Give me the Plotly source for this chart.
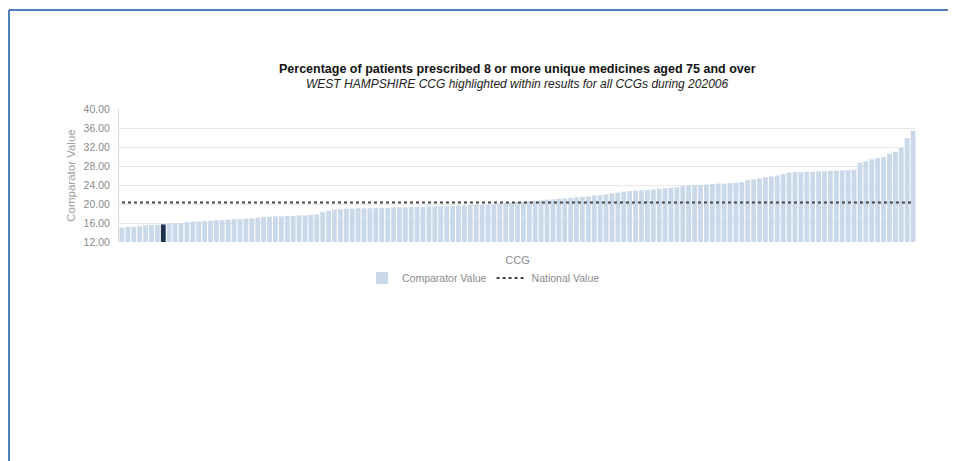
import plotly.graph_objects as go

# ---- data ----
comparator_values = [
    15.0, 15.2, 15.2, 15.3,
    15.5, 15.6, 15.6,
    15.7,
    15.9, 16.0, 16.0,
    16.2, 16.3, 16.3, 16.4,
    16.5, 16.6, 16.6, 16.7, 16.8, 16.8, 16.9,
    17.0, 17.1, 17.2,
    17.3, 17.4, 17.4, 17.5, 17.5, 17.6, 17.6, 17.7, 17.8,
    18.3, 18.6,
    18.8, 18.9, 19.0, 19.0, 19.1,
    19.1, 19.1, 19.2, 19.2, 19.2, 19.3, 19.3, 19.3, 19.4, 19.4, 19.4, 19.5, 19.5, 19.5,
    19.6, 19.6, 19.7, 19.7, 19.8, 19.8, 19.9, 19.9, 20.0, 20.1, 20.2, 20.3, 20.4, 20.5, 20.6,
    20.7, 20.8, 20.9, 21.0, 21.1, 21.2, 21.3, 21.4, 21.5, 21.6, 21.8, 21.9, 22.0, 22.2, 22.4, 22.6, 22.7, 22.8, 22.9,
    23.0, 23.1, 23.2, 23.3, 23.4, 23.5,
    23.8, 23.9, 24.0, 24.0, 24.1,
    24.2, 24.3, 24.3, 24.4, 24.5, 24.6,
    25.0, 25.2, 25.4, 25.6,
    25.8, 26.0, 26.3,
    26.6, 26.7, 26.7, 26.8, 26.8, 26.9, 26.9, 27.0, 27.0, 27.1, 27.1, 27.2,
    28.7, 29.0, 29.4,
    29.7, 29.9,
    30.6, 31.0,
    31.8,
    33.9,
    35.4,
]
ccg_names = ["CCG %d" % (i + 1) for i in range(len(comparator_values))]
highlight_index = 7          # WEST HAMPSHIRE CCG
national_value = 20.3

y_ticks = [12, 16, 20, 24, 28, 32, 36, 40]
y_tick_labels = ["12.00", "16.00", "20.00", "24.00", "28.00", "32.00", "36.00", "40.00"]

title_text = "Percentage of patients prescribed 8 or more unique medicines aged 75 and over"
subtitle_text = "WEST HAMPSHIRE CCG highlighted within results for all CCGs during 202006"

# ---- styling ----
bar_color = "#cad9ea"
highlight_color = "#1e3350"
bar_colors = [highlight_color if i == highlight_index else bar_color
              for i in range(len(comparator_values))]

fig = go.Figure()
fig.add_trace(go.Bar(
    x=ccg_names, y=comparator_values, name="Comparator Value",
    marker=dict(color=bar_colors, line=dict(width=0)),
))
fig.add_trace(go.Scatter(
    x=ccg_names, y=[national_value] * len(ccg_names), name="National Value",
    mode="lines", line=dict(color="#444444", width=2, dash="dot"),
))

# page offset (browser body margin)
OFF = 8
W, H = 956, 461
L, R, T, B = 119 - OFF, 956 - (916 - OFF), 109 - OFF, 461 - (242 - OFF)
pw, ph = W - L - R, H - T - B

def px_x(sx):
    return (sx - OFF - L) / pw

def px_y(sy):
    return (H - B - (sy - OFF)) / ph

fig.update_layout(
    width=W, height=H,
    margin=dict(l=L, r=R, t=T, b=B, pad=0),
    paper_bgcolor="white", plot_bgcolor="white",
    font=dict(family="Liberation Sans, Arial, sans-serif", color="#8a8a8a", size=10),
    bargap=0.18,
    showlegend=True,
    legend=dict(orientation="h", x=px_x(362), y=px_y(278), xanchor="left", yanchor="middle",
                font=dict(size=10.5, color="#8a8a8a"), bgcolor="rgba(0,0,0,0)",
                tracegroupgap=0),
    xaxis=dict(showticklabels=False, showgrid=False, zeroline=False, ticks="",
               title=dict(text="CCG", font=dict(size=11, color="#8a8a8a"), standoff=14)),
    yaxis=dict(range=[12, 40], tickvals=y_ticks, ticktext=y_tick_labels,
               showgrid=True, gridcolor="#e8e8e8", gridwidth=1, zeroline=False,
               showline=True, linecolor="#d8d8d8", linewidth=1,
               ticks="", tickfont=dict(size=10.5, color="#8a8a8a"),
               ticklabelstandoff=6,
               title=dict(text="Comparator Value", font=dict(size=11.5, color="#a0a0a0"), standoff=5)),
    annotations=[
        dict(text="<b>" + title_text + "</b>", xref="paper", yref="paper",
             x=px_x(517), y=px_y(68.5), xanchor="center", yanchor="middle", showarrow=False,
             font=dict(size=12.5, color="#111111")),
        dict(text="<i>" + subtitle_text + "</i>", xref="paper", yref="paper",
             x=px_x(517), y=px_y(84), xanchor="center", yanchor="middle", showarrow=False,
             font=dict(size=12, color="#222222")),
    ],
    shapes=[
        dict(type="line", xref="paper", yref="paper", x0=px_x(9), x1=px_x(9),
             y0=px_y(10), y1=px_y(480), line=dict(color="#4f81bd", width=2)),
        dict(type="line", xref="paper", yref="paper", x0=px_x(9), x1=px_x(980),
             y0=px_y(10), y1=px_y(10), line=dict(color="#4f81bd", width=2)),
    ],
)

fig.write_html("out.html")
